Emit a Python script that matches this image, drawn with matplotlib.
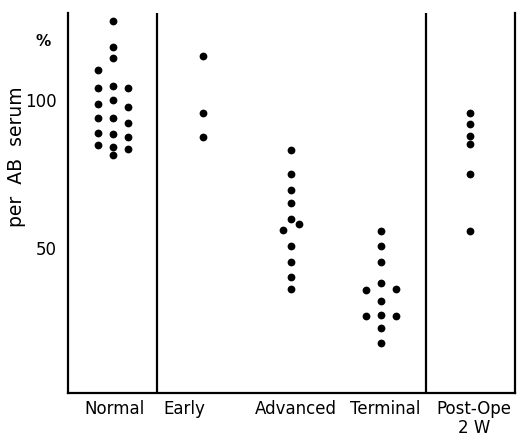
import matplotlib.pyplot as plt
import numpy as np

# values (% per AB serum) and which column each dot sits in (-1 left, 0 middle, 1 right)
normal = [126.7, 117.7, 114.1, 104.5, 100.0, 93.8, 88.5, 84.2, 81.3,
          110.1, 103.9, 98.5, 93.8, 88.7, 84.6,
          103.9, 97.5, 92.1, 87.6, 83.3]
normal_col = [0] * 9 + [-1] * 6 + [1] * 5

early = [114.9, 95.5, 87.4]
early_col = [0, 0, 0]

advanced = [83.1, 75.0, 69.4, 65.0, 59.9, 50.8, 45.2, 40.2, 36.1, 56.2, 57.9]
advanced_col = [0] * 9 + [-1, 1]

terminal = [55.6, 50.6, 45.2, 38.2, 32.2, 27.5, 23.0, 17.9, 35.7, 26.9, 36.2, 26.9]
terminal_col = [0] * 8 + [-1, -1, 1, 1]

postope = [95.7, 91.9, 87.8, 85.0, 75.0, 55.8]
postope_col = [0] * 6

labels = ['Normal', 'Early', 'Advanced', 'Terminal', 'Post-Ope\n2 W']
label_x = [10.5, 26.0, 51.0, 71.0, 90.8]

# where each group's dots go along x, and how far the side columns spread
groups = [(normal, normal_col, 10.1, 3.3),
          (early, early_col, 30.2, 0),
          (advanced, advanced_col, 49.9, 1.7),
          (terminal, terminal_col, 70.0, 3.4),
          (postope, postope_col, 89.9, 0)]
dividers = [19.9, 80.1]

plt.rcParams['font.family'] = 'DejaVu Sans'

fig = plt.figure(figsize=(5.2, 4.36), dpi=100)
ax = fig.add_axes([68 / 520, 43 / 436, 447 / 520, 380 / 436])

for vals, cols, cx, dx in groups:
    xs = cx + np.array(cols) * dx
    ax.plot(xs, vals, 'o', color='black', markersize=5.6, markeredgewidth=0)

for d in dividers:
    ax.axvline(d, color='black', linewidth=1.6)

ax.set_xlim(0, 100)
ax.set_ylim(1, 129.3)

ax.spines['top'].set_visible(False)
for s in ['left', 'bottom', 'right']:
    ax.spines[s].set_linewidth(1.6)

ax.set_yticks([50, 100])
ax.set_yticklabels(['50', '100'], fontsize=12)
ax.tick_params(axis='y', length=0, pad=8)

ax.set_xticks(label_x)
ax.set_xticklabels(labels, fontsize=12, linespacing=1.05)
ax.tick_params(axis='x', length=0, pad=5)

fig.text(43 / 520, 1 - 41 / 436, '%', fontsize=11, fontweight='bold',
         ha='center', va='center')
fig.text(17 / 520, 1 - 157 / 436, 'per  AB  serum', fontsize=13.5,
         rotation=90, ha='center', va='center')

fig.savefig('out.png', dpi=100)
